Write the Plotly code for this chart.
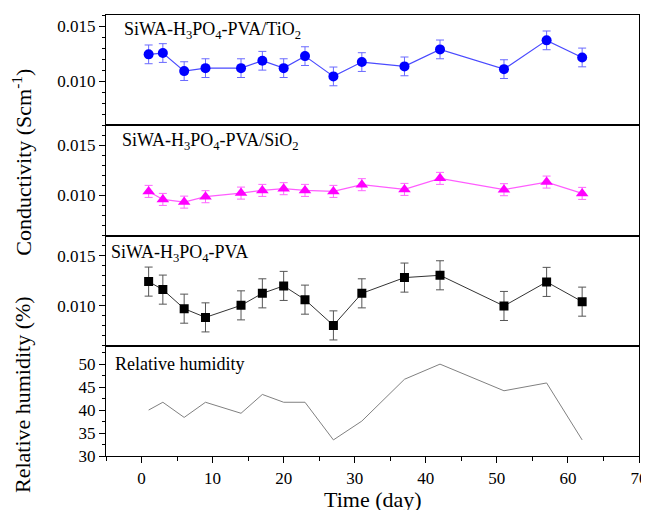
import plotly.graph_objects as go
from plotly.subplots import make_subplots

days = [1, 3, 6, 9, 14, 17, 20, 23, 27, 31, 37, 42, 51, 57, 62]
tio2 = [0.01243, 0.01255, 0.01091, 0.01118, 0.01118, 0.01185, 0.01118, 0.01227,
        0.01043, 0.01173, 0.01134, 0.01288, 0.01109, 0.01370, 0.01215]
tio2_err = [0.00085] * 15
sio2 = [0.01040, 0.00960, 0.00933, 0.00987, 0.01023, 0.01050, 0.01067, 0.01050,
        0.01040, 0.01107, 0.01060, 0.01170, 0.01057, 0.01133, 0.01020]
sio2_err = [0.0006] * 15
pva = [0.01240, 0.01160, 0.00970, 0.00883, 0.01003, 0.01123, 0.01197, 0.01060,
       0.00803, 0.01123, 0.01280, 0.01303, 0.00997, 0.01237, 0.01040]
pva_err = [0.00145] * 15
rh = [40.0, 41.7, 38.4, 41.7, 39.3, 43.4, 41.7, 41.7, 33.5, 37.6, 46.7, 50.0, 44.2, 45.9, 33.5]

FONT = "Liberation Serif"

fig = make_subplots(rows=4, cols=1, shared_xaxes=True, vertical_spacing=0)

fig.add_trace(go.Scatter(
    x=days, y=tio2, mode="lines+markers",
    line=dict(color="#4a4aff", width=1.2),
    marker=dict(symbol="circle", size=10, color="#0000ff"),
    error_y=dict(type="data", array=tio2_err, color="#6a6aff", thickness=1, width=4),
), row=1, col=1)

fig.add_trace(go.Scatter(
    x=days, y=sio2, mode="lines+markers",
    line=dict(color="#ff5cff", width=1.2),
    marker=dict(symbol="triangle-up", size=11, color="#ff00ff"),
    error_y=dict(type="data", array=sio2_err, color="#ff66ff", thickness=1, width=4),
), row=2, col=1)

fig.add_trace(go.Scatter(
    x=days, y=pva, mode="lines+markers",
    line=dict(color="#333333", width=1),
    marker=dict(symbol="square", size=9, color="#000000"),
    error_y=dict(type="data", array=pva_err, color="#555555", thickness=1, width=4),
), row=3, col=1)

fig.add_trace(go.Scatter(
    x=days, y=rh, mode="lines",
    line=dict(color="#808080", width=1),
), row=4, col=1)

axis_common = dict(showline=True, linecolor="black", linewidth=1.2, mirror=True,
                   showgrid=False, zeroline=False, automargin=False,
                   tickfont=dict(family=FONT, size=17, color="black"))

for r in range(1, 5):
    xa = dict(axis_common, range=[-5, 70], dtick=10)
    if r < 4:
        xa.update(ticks="", showticklabels=False)
    else:
        xa.update(ticks="outside", ticklen=6, tickwidth=1.2, tickcolor="black",
                  minor=dict(dtick=5, ticks="outside", ticklen=4, tickcolor="black", tickwidth=1.2))
    fig.update_xaxes(row=r, col=1, **xa)

yranges = {1: [0.006, 0.016], 2: [0.006, 0.017], 3: [0.006, 0.017]}
for r in (1, 2, 3):
    fig.update_yaxes(row=r, col=1, **axis_common, range=yranges[r], dtick=0.005,
                     tickformat=".3f", ticks="outside", ticklen=6, tickwidth=1.2,
                     tickcolor="black",
                     minor=dict(dtick=0.001, ticks="outside", ticklen=3,
                                tickcolor="black", tickwidth=1.2))
fig.update_yaxes(row=4, col=1, **axis_common, range=[30, 54], dtick=5,
                 ticks="outside", ticklen=6, tickwidth=1.2, tickcolor="black",
                 minor=dict(dtick=2.5, ticks="outside", ticklen=3,
                            tickcolor="black", tickwidth=1.2))

labels = [
    ("SiWA-H<sub>3</sub>PO<sub>4</sub>-PVA/TiO<sub>2</sub>", "x domain", "y domain", 0.03, 0.86),
    ("SiWA-H<sub>3</sub>PO<sub>4</sub>-PVA/SiO<sub>2</sub>", "x2 domain", "y2 domain", 0.026, 0.85),
    ("SiWA-H<sub>3</sub>PO<sub>4</sub>-PVA", "x3 domain", "y3 domain", 0.006, 0.84),
    ("Relative humidity", "x4 domain", "y4 domain", 0.013, 0.83),
]
for text, xr, yr, xx, yy in labels:
    fig.add_annotation(text=text, xref=xr, yref=yr, x=xx, y=yy, xanchor="left",
                       yanchor="middle", showarrow=False,
                       font=dict(family=FONT, size=18, color="black"))

fig.add_annotation(text="Conductivity (Scm<sup>-1</sup>)", xref="paper", yref="paper",
                   x=-0.158, y=0.667, textangle=-90, showarrow=False,
                   xanchor="center", yanchor="middle",
                   font=dict(family=FONT, size=22, color="black"))
fig.add_annotation(text="Relative humidity (%)", xref="paper", yref="paper",
                   x=-0.158, y=0.14, textangle=-90, showarrow=False,
                   xanchor="center", yanchor="middle",
                   font=dict(family=FONT, size=22, color="black"))
fig.add_annotation(text="Time (day)", xref="paper", yref="paper",
                   x=0.5, y=-0.098, showarrow=False,
                   xanchor="center", yanchor="middle",
                   font=dict(family=FONT, size=22, color="black"))

# page body adds an 8 px offset; size the figure so the plot lands where the reference has it
fig.update_layout(width=641, height=502, showlegend=False,
                  margin=dict(l=98, r=10, t=7, b=54),
                  plot_bgcolor="white", paper_bgcolor="white")

fig.write_html("out.html")
